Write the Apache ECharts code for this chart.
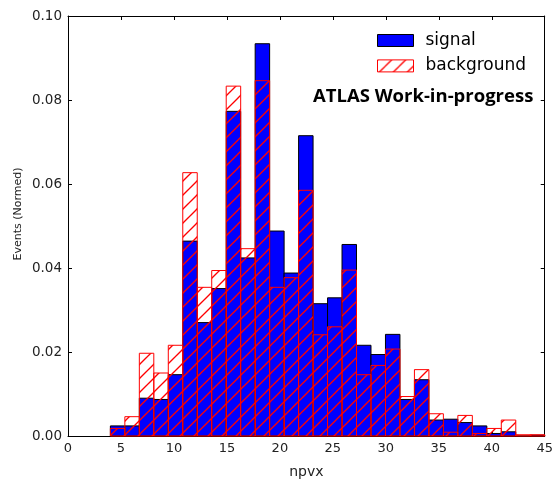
<!DOCTYPE html>
<html>
<head>
<meta charset="utf-8">
<script src="https://cdn.jsdelivr.net/npm/echarts@6/dist/echarts.min.js"></script>
<style>
  html, body { margin: 0; padding: 0; background: #fff; }
  #chart { width: 556px; height: 484px; }
</style>
</head>
<body>
<div id="chart"></div>
<script>
// Histogram binning: 30 equal bins over npvx 4..45
const binLow = 4;
const binHigh = 45;
const binCount = 30;

// Normalised event fractions per bin
const signal = [0.0024, 0.0024, 0.0090, 0.0087, 0.0146, 0.0464, 0.0270, 0.0351, 0.0773, 0.0424,
                0.0934, 0.0488, 0.0388, 0.0715, 0.0315, 0.0329, 0.0456, 0.0216, 0.0194, 0.0242,
                0.0087, 0.0134, 0.0038, 0.0040, 0.0032, 0.0024, 0.0006, 0.0010, 0.0000, 0.0002];
const background = [0.0018, 0.0046, 0.0197, 0.0150, 0.0216, 0.0627, 0.0354, 0.0394, 0.0833, 0.0446,
                    0.0846, 0.0354, 0.0377, 0.0585, 0.0241, 0.0260, 0.0395, 0.0146, 0.0168, 0.0207,
                    0.0094, 0.0158, 0.0053, 0.0009, 0.0049, 0.0006, 0.0018, 0.0038, 0.0003, 0.0003];

const xTicks = [0, 5, 10, 15, 20, 25, 30, 35, 40, 45];
const yTicks = [0.00, 0.02, 0.04, 0.06, 0.08, 0.10];

const binWidth = (binHigh - binLow) / binCount;
function toBins(values) {
  return values.map((v, i) => [binLow + i * binWidth, binLow + (i + 1) * binWidth, v]);
}

// Diagonal "/" hatch tile for the background histogram
function makeHatch(size, color, width) {
  const c = document.createElement('canvas');
  c.width = size; c.height = size;
  const ctx = c.getContext('2d');
  ctx.strokeStyle = color;
  ctx.lineWidth = width;
  for (let k = -1; k <= 1; k++) {
    ctx.beginPath();
    ctx.moveTo(k * size - 1, size + 1);
    ctx.lineTo(k * size + size + 1, -1);
    ctx.stroke();
  }
  return c;
}
const hatch = { image: makeHatch(14, '#ff0000', 1.3), repeat: 'repeat' };

function histRenderer(fill, stroke) {
  return function (params, api) {
    const top = api.coord([api.value(0), api.value(2)]);
    const base = api.coord([api.value(1), 0]);
    return {
      type: 'rect',
      shape: { x: top[0], y: top[1], width: base[0] - top[0], height: base[1] - top[1] },
      style: { fill: fill, stroke: stroke, lineWidth: 1 }
    };
  };
}

const fontFamily = 'DejaVu Sans';
const tickColor = '#222';

const chart = echarts.init(document.getElementById('chart'), null, { renderer: 'canvas' });

const axisFrame = { show: true, onZero: false, lineStyle: { color: '#000', width: 1 } };
const innerTick = { show: true, inside: true, length: 4, lineStyle: { color: '#000', width: 1 } };

chart.setOption({
  animation: false,
  backgroundColor: '#fff',
  grid: { left: 68, right: 10, top: 16, bottom: 45, containLabel: false },
  xAxis: [{
    type: 'value', min: 0, max: 45, interval: 5,
    name: 'npvx', nameLocation: 'middle', nameGap: 29,
    nameTextStyle: { fontFamily: fontFamily, fontSize: 14, color: tickColor },
    axisLine: axisFrame, axisTick: innerTick,
    axisLabel: { fontFamily: fontFamily, fontSize: 13, color: tickColor, margin: 6,
      customValues: xTicks, formatter: v => String(v) },
    splitLine: { show: false }
  }, {
    type: 'value', min: 0, max: 45, interval: 5, position: 'top',
    axisLine: axisFrame, axisTick: innerTick, axisLabel: { show: false }, splitLine: { show: false }
  }],
  yAxis: [{
    type: 'value', min: 0, max: 0.1, interval: 0.02,
    axisLine: axisFrame, axisTick: innerTick,
    axisLabel: { fontFamily: fontFamily, fontSize: 13.5, color: tickColor, margin: 6,
      customValues: yTicks, formatter: v => v.toFixed(2) },
    splitLine: { show: false }
  }, {
    type: 'value', min: 0, max: 0.1, interval: 0.02, position: 'right',
    axisLine: axisFrame, axisTick: innerTick, axisLabel: { show: false }, splitLine: { show: false }
  }],
  legend: {
    orient: 'vertical', left: 377, top: 32, padding: 0,
    itemWidth: 36, itemHeight: 12, itemGap: 8.4,
    textStyle: { fontFamily: fontFamily, fontSize: 17, color: '#000', lineHeight: 17, padding: [0, 0, 0, 7] },
    data: [
      { name: 'signal', icon: 'rect', itemStyle: { color: '#0000ff', borderColor: '#000', borderWidth: 1 } },
      { name: 'background', icon: 'rect', itemStyle: { color: hatch, borderColor: '#ff0000', borderWidth: 1 } }
    ]
  },
  graphic: [
    { type: 'text', x: 313, y: 97,
      style: { text: 'ATLAS Work-in-progress', font: 'bold 18.5px "Open Sans"', fill: '#000',
        verticalAlign: 'middle' } },
    { type: 'text', x: 18, y: 214, rotation: Math.PI / 2,
      style: { text: 'Events (Normed)', font: '11px "DejaVu Sans"', fill: tickColor,
        align: 'center', verticalAlign: 'middle' } }
  ],
  series: [{
    name: 'signal', type: 'custom',
    renderItem: histRenderer('#0000ff', '#000'),
    itemStyle: { color: '#0000ff', borderColor: '#000', borderWidth: 1 },
    encode: { x: [0, 1], y: 2 },
    data: toBins(signal), z: 2
  }, {
    name: 'background', type: 'custom',
    renderItem: histRenderer(hatch, '#ff0000'),
    itemStyle: { color: hatch, borderColor: '#ff0000', borderWidth: 1 },
    encode: { x: [0, 1], y: 2 },
    data: toBins(background), z: 3
  }]
});
</script>
</body>
</html>
